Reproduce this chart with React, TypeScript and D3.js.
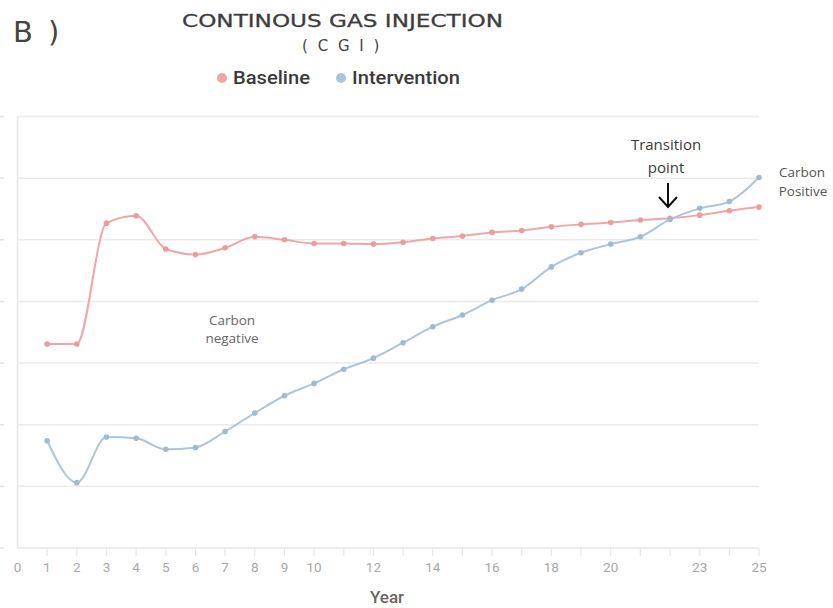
import React from "react";
import * as d3 from "d3";

const years = d3.range(1, 26);
const baseline = [3.31, 3.31, 5.27, 5.39, 4.85, 4.76, 4.87, 5.05, 5.0, 4.94, 4.94, 4.93, 4.96, 5.02, 5.06, 5.12, 5.15, 5.21, 5.25, 5.28, 5.32, 5.35, 5.4, 5.47, 5.53];
const intervention = [1.74, 1.06, 1.8, 1.78, 1.6, 1.63, 1.89, 2.19, 2.47, 2.67, 2.9, 3.08, 3.33, 3.59, 3.78, 4.02, 4.2, 4.56, 4.79, 4.93, 5.05, 5.33, 5.51, 5.62, 6.01];
const xTickLabels = [0, 1, 2, 3, 4, 5, 6, 7, 8, 9, 10, 12, 14, 16, 18, 20, 23, 25];
const xTickMarks = d3.range(1, 26);
const yGrid = [1, 2, 3, 4, 5, 6, 7];

const W = 833;
const H = 608;
const BASE_COLOR = "#f0a6a6";
const BASE_PT = "#eb9d9d";
const INT_COLOR = "#abc5dc";
const INT_PT = "#9fbbd3";

export default function App() {
  const x = d3.scaleLinear().domain([0, 25]).range([17.5, 759]);
  const y = d3.scaleLinear().domain([0, 7]).range([548, 116.5]);
  const line = d3
    .line<number>()
    .x((_, i) => x(years[i]))
    .y((d) => y(d))
    .curve(d3.curveMonotoneX);

  const annoFont = "'Open Sans', 'DejaVu Sans', sans-serif";
  const axisFont = "Roboto, 'Noto Sans', sans-serif";

  return (
    <svg width={W} height={H} style={{ position: "absolute", left: 0, top: 0, background: "#fff" }}>
      <rect x={0} y={0} width={W} height={H} fill="#fff" />
      {/* Title */}
      <text x={13} y={42} fontFamily="'DejaVu Sans', sans-serif" fontSize={29} fill="#444" letterSpacing={3}>
        B )
      </text>
      <text x={182} y={27} fontFamily="'DejaVu Sans', sans-serif" fontSize={17.5} fill="#3d3d3d" stroke="#3d3d3d" strokeWidth={0.3} textLength={321} lengthAdjust="spacingAndGlyphs">
        CONTINOUS GAS INJECTION
      </text>
      <text x={342} y={51} textAnchor="middle" fontFamily="'DejaVu Sans', sans-serif" fontSize={15} fill="#444" letterSpacing={2.5}>
        ( C G I )
      </text>
      {/* Legend */}
      <circle cx={222} cy={78} r={5} fill={BASE_COLOR} />
      <text x={233} y={84} fontFamily={axisFont} fontWeight={500} fontSize={18} fill="#3a3a3a" textLength={77} lengthAdjust="spacingAndGlyphs">
        Baseline
      </text>
      <circle cx={341} cy={78} r={5} fill={INT_COLOR} />
      <text x={352} y={84} fontFamily={axisFont} fontWeight={500} fontSize={18} fill="#3a3a3a" textLength={108} lengthAdjust="spacingAndGlyphs">
        Intervention
      </text>

      {/* Grid */}
      {yGrid.map((g) => (
        <g key={g}>
          <line x1={x(0)} x2={x(25)} y1={y(g)} y2={y(g)} stroke="#ebebeb" strokeWidth={1.5} />
          <line x1={0} x2={4} y1={y(g)} y2={y(g)} stroke="#e0e0e0" strokeWidth={1.5} />
        </g>
      ))}
      <line x1={0} x2={4} y1={y(0)} y2={y(0)} stroke="#e0e0e0" strokeWidth={1.5} />
      {/* Axes */}
      <line x1={x(0)} x2={x(0)} y1={y(7)} y2={y(0)} stroke="#e6e6e6" strokeWidth={1.5} />
      <line x1={x(0)} x2={x(25)} y1={y(0)} y2={y(0)} stroke="#e6e6e6" strokeWidth={1.5} />
      {xTickMarks.map((t) => (
        <line key={t} x1={x(t)} x2={x(t)} y1={y(0)} y2={y(0) + 8} stroke="#e6e6e6" strokeWidth={1.2} />
      ))}
      {xTickLabels.map((t) => (
        <text key={t} x={x(t)} y={572} textAnchor="middle" fontFamily={axisFont} fontSize={13.5} fill="#a8a8a8">
          {t}
        </text>
      ))}
      <text x={387} y={603} textAnchor="middle" fontFamily={axisFont} fontWeight={500} fontSize={17} fill="#666">
        Year
      </text>

      {/* Lines */}
      <path d={line(baseline) || ""} fill="none" stroke={BASE_COLOR} strokeWidth={2} />
      <path d={line(intervention) || ""} fill="none" stroke={INT_COLOR} strokeWidth={2} />
      {baseline.map((v, i) => (
        <circle key={"b" + i} cx={x(years[i])} cy={y(v)} r={2.8} fill={BASE_PT} />
      ))}
      {intervention.map((v, i) => (
        <circle key={"i" + i} cx={x(years[i])} cy={y(v)} r={2.8} fill={INT_PT} />
      ))}

      {/* Annotations */}
      <text x={232} y={325} textAnchor="middle" fontFamily={annoFont} fontSize={13.5} fill="#666">
        Carbon
      </text>
      <text x={232} y={343} textAnchor="middle" fontFamily={annoFont} fontSize={13.5} fill="#666">
        negative
      </text>
      <text x={666} y={150} textAnchor="middle" fontFamily={annoFont} fontSize={15} fill="#3a3a3a">
        Transition
      </text>
      <text x={666} y={173} textAnchor="middle" fontFamily={annoFont} fontSize={15} fill="#3a3a3a">
        point
      </text>
      <line x1={668} x2={668} y1={183} y2={207} stroke="#111" strokeWidth={2} />
      <polyline points="659,197 668,207 677,197" fill="none" stroke="#111" strokeWidth={2} />
      <text x={802} y={177} textAnchor="middle" fontFamily={annoFont} fontSize={13.5} fill="#555">
        Carbon
      </text>
      <text x={803} y={196} textAnchor="middle" fontFamily={annoFont} fontSize={13.5} fill="#555">
        Positive
      </text>
    </svg>
  );
}
